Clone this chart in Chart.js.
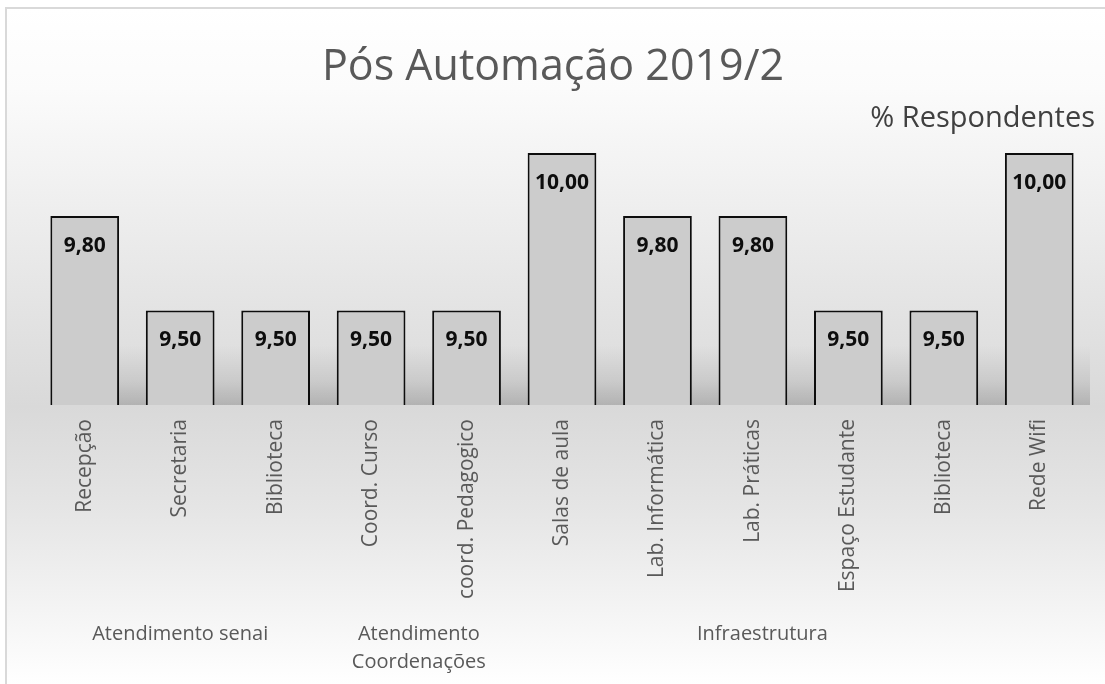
<!DOCTYPE html>
<html>
<head>
<meta charset="utf-8">
<script src="https://cdn.jsdelivr.net/npm/chart.js@4.4.1/dist/chart.umd.min.js"></script>
<style>
  html, body { margin: 0; padding: 0; background: #ffffff; }
  #wrap { width: 1105px; height: 684px; position: relative; }
</style>
</head>
<body>
<div id="wrap"><canvas id="c" width="1105" height="684"></canvas></div>
<script>
const categories = ['Recepção', 'Secretaria', 'Biblioteca', 'Coord. Curso', 'coord. Pedagogico',
  'Salas de aula', 'Lab. Informática', 'Lab. Práticas', 'Espaço Estudante', 'Biblioteca', 'Rede Wifi'];
const values = [9.80, 9.50, 9.50, 9.50, 9.50, 10.00, 9.80, 9.80, 9.50, 9.50, 10.00];
const groupNames = [['Atendimento senai'], ['Atendimento', 'Coordenações'], ['Infraestrutura']];
const groupCenters = [1, 3.5, 7.1];
const chartTitle = 'Pós Automação 2019/2';
const seriesName = '% Respondentes';

const FONT = '"Open Sans", Lato, sans-serif';

const decor = {
  id: 'decor',
  beforeDraw(chart) {
    const ctx = chart.ctx;
    const W = chart.width, H = chart.height;
    ctx.save();
    const g = ctx.createLinearGradient(0, 8, 0, H);
    g.addColorStop(0, '#ffffff');
    g.addColorStop(0.12, '#fbfbfb');
    g.addColorStop(0.59, '#d9d9d9');
    g.addColorStop(0.75, '#e6e6e6');
    g.addColorStop(1, '#ffffff');
    ctx.fillStyle = g;
    ctx.fillRect(7, 9, W - 7, H - 9);
    // border top/left
    ctx.fillStyle = '#d9d9d9';
    ctx.fillRect(5, 7, W - 5, 2);
    ctx.fillRect(5, 7, 2, H - 7);
    // floor shadow band
    const a = chart.chartArea;
    const x0 = 92, x1 = 1090;
    const sg = ctx.createLinearGradient(0, a.bottom - 60, 0, a.bottom);
    sg.addColorStop(0, 'rgba(0,0,0,0)');
    sg.addColorStop(0.6, 'rgba(0,0,0,0.08)');
    sg.addColorStop(1, 'rgba(0,0,0,0.18)');
    ctx.fillStyle = sg;
    ctx.fillRect(x0, a.bottom - 60, x1 - x0, 60);
    ctx.restore();
  },
  afterDraw(chart) {
    const ctx = chart.ctx;
    ctx.save();
    // title
    ctx.fillStyle = '#595959';
    ctx.textAlign = 'center';
    ctx.textBaseline = 'middle';
    ctx.font = '43px ' + FONT;
    ctx.fillText(chartTitle, 553, 68);
    // series label
    ctx.fillStyle = '#404040';
    ctx.textAlign = 'right';
    ctx.font = '29px ' + FONT;
    ctx.fillText(seriesName, 1095, 119);
    // data labels
    const meta = chart.getDatasetMeta(0);
    ctx.fillStyle = '#0d0d0d';
    ctx.textAlign = 'center';
    ctx.font = 'bold 21px ' + FONT;
    meta.data.forEach((bar, i) => {
      ctx.fillText(values[i].toFixed(2).replace('.', ','), bar.x, bar.y + 30);
    });
    // group labels
    const xs = chart.scales.x;
    ctx.fillStyle = '#595959';
    ctx.font = '20px ' + FONT;
    groupNames.forEach((lines, gi) => {
      const cx = xs.getPixelForValue(groupCenters[gi]);
      lines.forEach((ln, li) => ctx.fillText(ln, cx, 634 + li * 28));
    });
    ctx.restore();
  }
};

new Chart(document.getElementById('c'), {
  type: 'bar',
  data: {
    labels: categories,
    datasets: [{
      label: seriesName,
      data: values,
      backgroundColor: '#cccccc',
      borderColor: '#0d0d0d',
      borderWidth: 2,
      borderSkipped: false,
      barPercentage: 0.72,
      categoryPercentage: 1.0
    }]
  },
  options: {
    responsive: false,
    animation: false,
    devicePixelRatio: 1,
    layout: { padding: { left: 37, right: 18, top: 90, bottom: 9 } },
    plugins: { legend: { display: false }, title: { display: false }, tooltip: { enabled: false } },
    scales: {
      x: {
        grid: { display: false, drawTicks: false },
        border: { display: false },
        ticks: {
          minRotation: 90, maxRotation: 90, autoSkip: false,
          padding: 14,
          color: '#595959',
          font: { family: FONT, size: 21 }
        },
        afterFit(scale) { scale.height = 270; }
      },
      y: {
        display: false,
        min: 9.2, max: 10.2
      }
    }
  },
  plugins: [decor]
});
</script>
</body>
</html>
